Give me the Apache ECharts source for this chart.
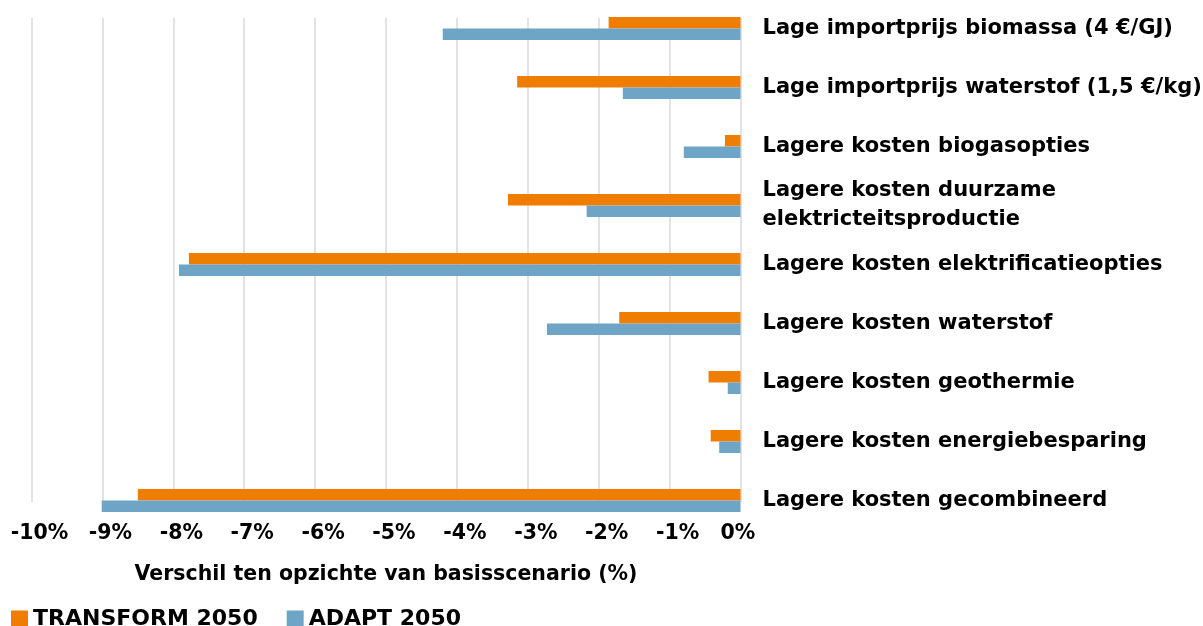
<!DOCTYPE html>
<html>
<head>
<meta charset="utf-8">
<script src="https://cdn.jsdelivr.net/npm/echarts@6/dist/echarts.min.js"></script>
<style>
  html, body { margin: 0; padding: 0; background: #fff; }
  #chart { width: 1203px; height: 626px; }
</style>
</head>
<body>
<div id="chart"></div>
<script>
// categories top to bottom
var categories = [
  'Lage importprijs biomassa (4 €/GJ)',
  'Lage importprijs waterstof (1,5 €/kg)',
  'Lagere kosten biogasopties',
  'Lagere kosten duurzame\nelektricteitsproductie',
  'Lagere kosten elektrificatieopties',
  'Lagere kosten waterstof',
  'Lagere kosten geothermie',
  'Lagere kosten energiebesparing',
  'Lagere kosten gecombineerd'
];
var transform2050 = [-1.86, -3.15, -0.22, -3.28, -7.78, -1.71, -0.45, -0.42, -8.50];
var adapt2050 = [-4.20, -1.66, -0.80, -2.17, -7.92, -2.73, -0.18, -0.30, -9.01];

var orange = '#EF7D00';
var blue = '#6EA5C6';
var font = 'DejaVu Sans';

var chart = echarts.init(document.getElementById('chart'));

var option = {
  backgroundColor: '#fff',
  animation: false,
  legend: {
    left: 6,
    top: 603,
    icon: 'rect',
    itemWidth: 17,
    itemHeight: 17,
    itemGap: 29,
    data: ['TRANSFORM 2050', 'ADAPT 2050'],
    textStyle: { color: '#000', fontFamily: font, fontWeight: 'bold', fontSize: 22 }
  },
  grid: [
    // grid for gridlines and tick labels
    { left: 31.5, right: 462.5, top: 18, height: 484, outerBoundsMode: 'none' },
    // grid for bars
    { left: 31.5, right: 462.5, top: -1, height: 531, outerBoundsMode: 'none' }
  ],
  xAxis: [
    {
      gridIndex: 0,
      type: 'value',
      min: -10,
      max: 0,
      interval: 1,
      axisLine: { show: false },
      axisTick: { show: false },
      splitLine: { show: true, lineStyle: { color: '#d9d9d9', width: 1.5 } },
      axisLabel: {
        margin: 21,
        formatter: function (v) {
          return v === 0 ? '{z|0%}' : '{n|' + v + '%}';
        },
        rich: {
          n: { padding: [0, 0, 0, 16], fontFamily: font, fontWeight: 'bold', fontSize: 20.5, color: '#000' },
          z: { padding: [0, 5, 0, 0], fontFamily: font, fontWeight: 'bold', fontSize: 20.5, color: '#000' }
        },
        showMinLabel: true,
        showMaxLabel: true
      },
      name: 'Verschil ten opzichte van basisscenario (%)',
      nameLocation: 'middle',
      nameGap: 62,
      nameTextStyle: { color: '#000', fontFamily: font, fontWeight: 'bold', fontSize: 20.5 }
    },
    {
      gridIndex: 1,
      type: 'value',
      min: -10,
      max: 0,
      interval: 1,
      show: false,
      splitLine: { show: false }
    }
  ],
  yAxis: [
    {
      gridIndex: 0,
      type: 'category',
      data: categories,
      show: false
    },
    {
      gridIndex: 1,
      type: 'category',
      data: categories,
      inverse: true,
      position: 'right',
      axisLine: { show: false },
      axisTick: { show: false },
      splitLine: { show: false },
      axisLabel: {
        margin: 22,
        color: '#000',
        fontFamily: font,
        fontWeight: 'bold',
        fontSize: 21,
        lineHeight: 29
      }
    }
  ],
  series: [
    {
      name: 'TRANSFORM 2050',
      type: 'bar',
      xAxisIndex: 1,
      yAxisIndex: 1,
      data: transform2050,
      barWidth: 11.5,
      barGap: '0%',
      itemStyle: { color: orange }
    },
    {
      name: 'ADAPT 2050',
      type: 'bar',
      xAxisIndex: 1,
      yAxisIndex: 1,
      data: adapt2050,
      barWidth: 11.5,
      barGap: '0%',
      itemStyle: { color: blue }
    }
  ]
};

chart.setOption(option);
</script>
</body>
</html>
